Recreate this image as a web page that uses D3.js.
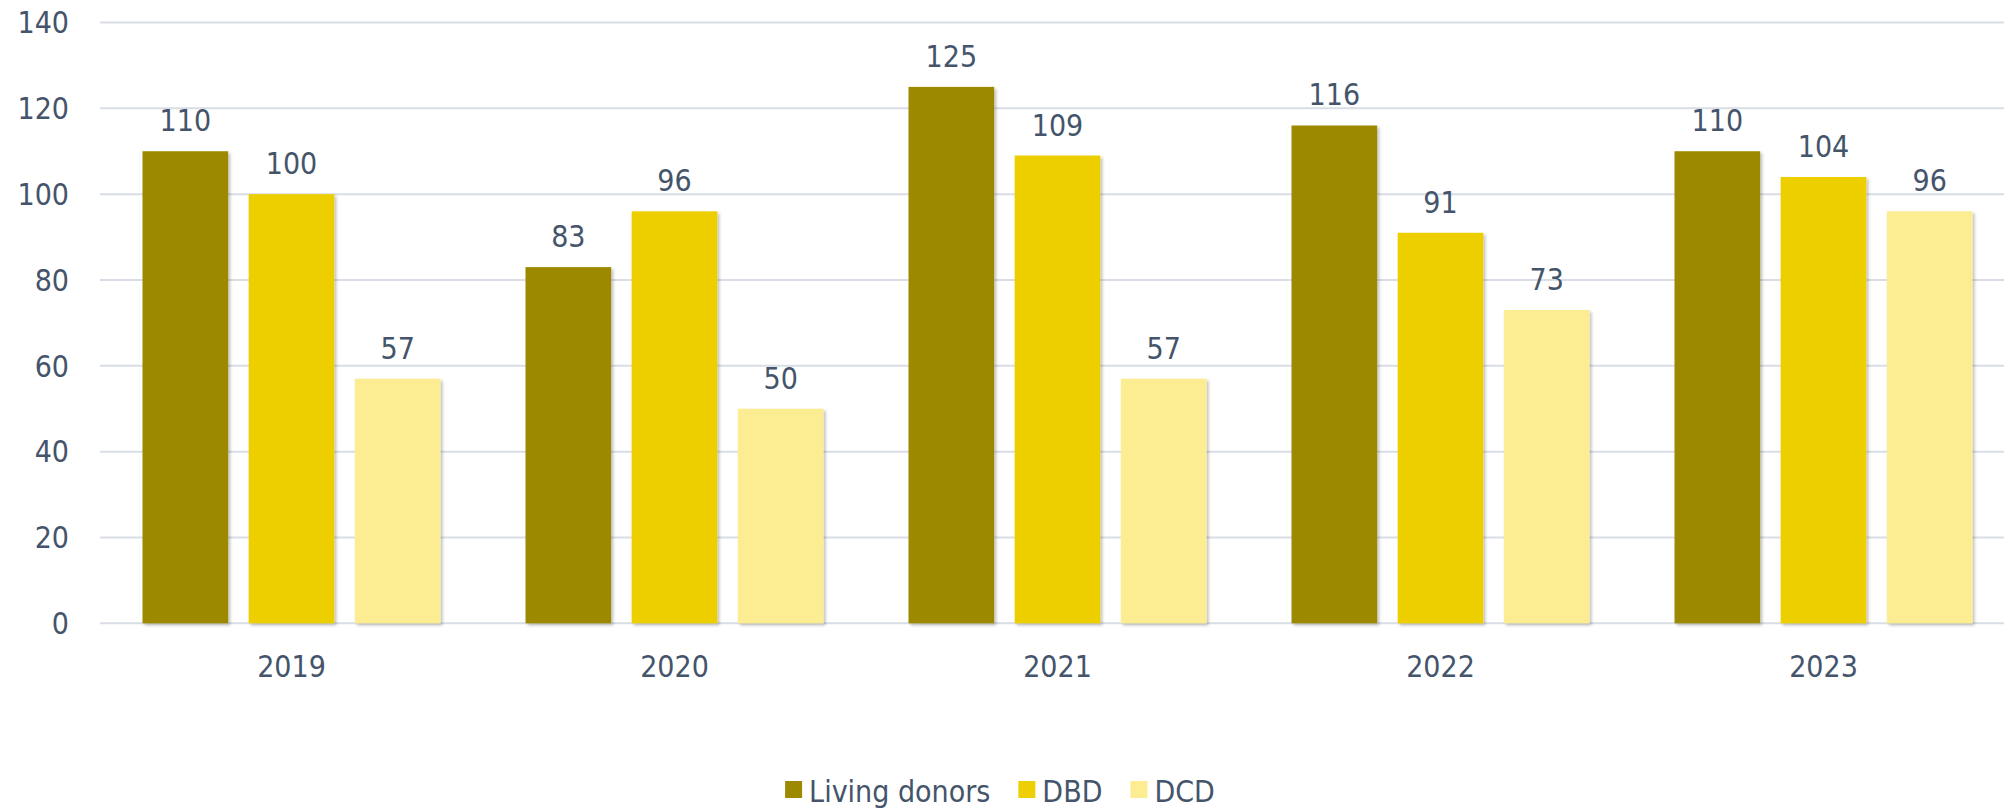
<!DOCTYPE html>
<html>
<head>
<meta charset="utf-8">
<script src="https://cdn.jsdelivr.net/npm/d3@7/dist/d3.min.js"></script>
<style>
  html, body { margin: 0; padding: 0; background: #fff; }
  svg text { font-family: "DejaVu Sans Condensed", "DejaVu Sans", sans-serif; font-stretch: condensed; fill: #44546a; }
</style>
</head>
<body>
<div id="chart"></div>
<script>
// data
let years = ["2019", "2020", "2021", "2022", "2023"];
let seriesNames = ["Living donors", "DBD", "DCD"];
let livingDonors = [110, 83, 125, 116, 110];
let dbd = [100, 96, 109, 91, 104];
let dcd = [57, 50, 57, 73, 96];
let yTicks = [0, 20, 40, 60, 80, 100, 120, 140];
let colors = ["#9c8900", "#edcf05", "#fcec92"];

let w = 2004, h = 808;
let fontSize = 30;

let svg = d3.select("#chart")
  .append("svg")
  .attr("width", w)
  .attr("height", h);

// soft shadow like the original
let defs = svg.append("defs");
let f = defs.append("filter").attr("id", "shadow")
  .attr("x", "-10%").attr("y", "-10%").attr("width", "130%").attr("height", "130%");
f.append("feDropShadow")
  .attr("dx", 2).attr("dy", 2).attr("stdDeviation", 1.5)
  .attr("flood-color", "#000").attr("flood-opacity", 0.25);

// scales
let x0 = d3.scaleBand()
  .domain(years)
  .range([100, 2015])
  .paddingInner(0.222)
  .paddingOuter(0.111);

let x1 = d3.scaleBand()
  .domain(seriesNames)
  .range([0, x0.bandwidth()])
  .paddingInner(0.193)
  .paddingOuter(0);

let y = d3.scaleLinear()
  .domain([0, 140])
  .range([623.3, 22.5]);

// gridlines
svg.append("g")
  .selectAll("line")
  .data(yTicks)
  .join("line")
  .attr("x1", 100)
  .attr("x2", w)
  .attr("y1", d => y(d))
  .attr("y2", d => y(d))
  .attr("stroke", "#d9dee6")
  .attr("stroke-width", 2);

// y labels
svg.append("g")
  .selectAll("text")
  .data(yTicks)
  .join("text")
  .attr("x", 69)
  .attr("y", d => y(d))
  .attr("dy", "0.36em")
  .style("text-anchor", "end")
  .style("font-size", fontSize + "px")
  .text(d => d);

// bars
let rows = years.map((yr, i) => ({
  year: yr,
  vals: [livingDonors[i], dbd[i], dcd[i]]
}));

let groups = svg.append("g")
  .selectAll("g")
  .data(rows)
  .join("g")
  .attr("transform", d => "translate(" + x0(d.year) + ",0)");

groups.selectAll("rect")
  .data(d => d.vals.map((v, j) => ({ name: seriesNames[j], v: v, j: j })))
  .join("rect")
  .attr("x", d => x1(d.name))
  .attr("y", d => y(d.v))
  .attr("width", x1.bandwidth())
  .attr("height", d => y(0) - y(d.v))
  .attr("fill", d => colors[d.j])
  .attr("filter", "url(#shadow)");

// value labels
groups.selectAll("text")
  .data(d => d.vals.map((v, j) => ({ name: seriesNames[j], v: v })))
  .join("text")
  .attr("x", d => x1(d.name) + x1.bandwidth() / 2)
  .attr("y", d => y(d.v) - 20)
  .style("text-anchor", "middle")
  .style("font-size", fontSize + "px")
  .text(d => d.v);

// x labels
svg.append("g")
  .selectAll("text")
  .data(years)
  .join("text")
  .attr("x", d => x0(d) + x0.bandwidth() / 2)
  .attr("y", 676.5)
  .style("text-anchor", "middle")
  .style("font-size", fontSize + "px")
  .text(d => d);

// legend
let legend = svg.append("g");
let items = legend.selectAll("g")
  .data(seriesNames)
  .join("g");
items.append("rect")
  .attr("width", 17)
  .attr("height", 17)
  .attr("y", 781)
  .attr("fill", (d, i) => colors[i]);
items.append("text")
  .attr("x", 24)
  .attr("y", 801.5)
  .style("font-size", fontSize + "px")
  .text(d => d);

let lx = 0;
let offsets = [];
items.each(function () {
  offsets.push(lx);
  let tw = d3.select(this).select("text").node().getComputedTextLength();
  lx += 24 + tw + 28;
});
let totalW = lx - 28;
let startX = 1000 - totalW / 2;
items.attr("transform", (d, i) => "translate(" + (startX + offsets[i]) + ",0)");
</script>
</body>
</html>
